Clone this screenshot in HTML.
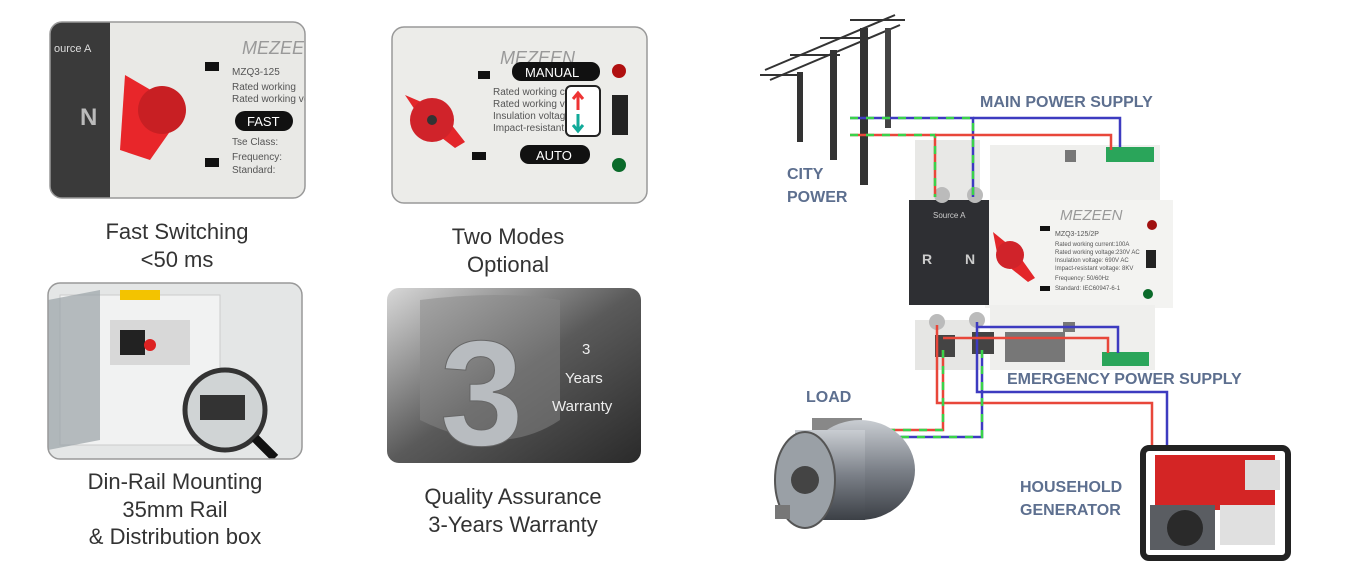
<!DOCTYPE html>
<html><head><meta charset="utf-8"><style>
body{margin:0;width:1362px;height:584px;background:#fff;position:relative;overflow:hidden;font-family:"Liberation Sans",sans-serif}
.cap{position:absolute;text-align:center;color:#333;font-size:22px;line-height:27.5px;width:300px}
.lab{font-family:"Liberation Sans",sans-serif;font-weight:bold;font-size:16px;fill:#5d6f8f}
</style></head><body>
<svg width="1362" height="584" style="position:absolute;left:0;top:0">
<defs>
<linearGradient id="g4" x1="0" y1="0" x2="1" y2="1"><stop offset="0" stop-color="#d8d8d8"/><stop offset=".5" stop-color="#5a5a5a"/><stop offset="1" stop-color="#2a2a2a"/></linearGradient>
<linearGradient id="mot" x1="0" y1="0" x2="0" y2="1"><stop offset="0" stop-color="#c9cdd2"/><stop offset=".5" stop-color="#7b8088"/><stop offset="1" stop-color="#3c4046"/></linearGradient>
</defs>
<g><clipPath id="c1"><rect x="50" y="22" width="255" height="176" rx="12"/></clipPath>
<g clip-path="url(#c1)"><rect x="50" y="22" width="255" height="176" fill="#e9e9e6"/>
<rect x="50" y="22" width="60" height="176" fill="#3a3a3a"/><text x="54" y="52" fill="#ddd" font-size="11">ource A</text><text x="80" y="125" fill="#bbb" font-size="24" font-weight="bold">N</text>
<polygon points="125,75 185,110 150,160 120,150" fill="#e8262a"/><circle cx="162" cy="110" r="24" fill="#c81f23"/>
<rect x="205" y="62" width="14" height="9" fill="#111"/><rect x="205" y="158" width="14" height="9" fill="#111"/>
<text x="242" y="54" fill="#999" font-size="18" font-style="italic">MEZEEN</text>
<text x="232" y="75" fill="#555" font-size="10">MZQ3-125</text><text x="232" y="90" fill="#555" font-size="10">Rated working</text><text x="232" y="102" fill="#555" font-size="10">Rated working vo</text>
<text x="232" y="145" fill="#555" font-size="10">Tse Class:</text><text x="232" y="160" fill="#555" font-size="10">Frequency:</text><text x="232" y="173" fill="#555" font-size="10">Standard:</text>
<rect x="235" y="111" width="58" height="20" rx="10" fill="#111"/><text x="247" y="126" fill="#fff" font-size="13">FAST</text></g>
<rect x="50" y="22" width="255" height="176" rx="12" fill="none" stroke="#999" stroke-width="1.5"/></g>
<g><clipPath id="c2"><rect x="392" y="27" width="255" height="176" rx="12"/></clipPath>
<g clip-path="url(#c2)"><rect x="392" y="27" width="255" height="176" fill="#ecece9"/>
<text x="500" y="64" fill="#999" font-size="18" font-style="italic">MEZEEN</text>
<polygon points="405,95 440,110 465,142 455,148 425,125" fill="#e3262a"/><circle cx="432" cy="120" r="22" fill="#d0232a"/><circle cx="432" cy="120" r="5" fill="#333"/>
<rect x="478" y="71" width="12" height="8" fill="#111"/><rect x="472" y="152" width="14" height="8" fill="#111"/>
<text x="493" y="95" fill="#555" font-size="10">Rated working curr</text><text x="493" y="107" fill="#555" font-size="10">Rated working volta</text><text x="493" y="119" fill="#555" font-size="10">Insulation voltage</text><text x="493" y="131" fill="#555" font-size="10">Impact-resistant vo</text>
<rect x="512" y="62" width="88" height="19" rx="9" fill="#111"/><text x="525" y="77" fill="#fff" font-size="13">MANUAL</text>
<rect x="520" y="145" width="70" height="19" rx="9" fill="#111"/><text x="536" y="160" fill="#fff" font-size="13">AUTO</text>
<rect x="566" y="86" width="34" height="50" rx="5" fill="#fff" stroke="#222" stroke-width="2"/>
<path d="M578 110 V94 M573 99 L578 93 L583 99" stroke="#e33" stroke-width="3" fill="none"/><path d="M578 114 V130 M573 125 L578 131 L583 125" stroke="#1a9" stroke-width="3" fill="none"/>
<rect x="612" y="95" width="16" height="40" fill="#222"/><circle cx="619" cy="71" r="7" fill="#b01010"/><circle cx="619" cy="165" r="7" fill="#0a6a2a"/></g>
<rect x="392" y="27" width="255" height="176" rx="12" fill="none" stroke="#999" stroke-width="1.5"/></g>
<g><clipPath id="c3"><rect x="48" y="283" width="254" height="176" rx="12"/></clipPath>
<g clip-path="url(#c3)"><rect x="48" y="283" width="254" height="176" fill="#e4e6e6"/>
<rect x="60" y="295" width="160" height="150" fill="#f1f2f2" stroke="#ccc"/><polygon points="48,300 100,290 100,440 48,450" fill="#9aa3a6" opacity=".7"/>
<rect x="110" y="320" width="80" height="45" fill="#d8d8d8"/><rect x="120" y="330" width="25" height="25" fill="#222"/><circle cx="150" cy="345" r="6" fill="#d22"/>
<rect x="120" y="290" width="40" height="10" fill="#f3c300"/>
<circle cx="225" cy="410" r="40" fill="#d0d4d5" stroke="#333" stroke-width="5"/><rect x="200" y="395" width="45" height="25" fill="#333"/>
<line x1="255" y1="438" x2="275" y2="458" stroke="#111" stroke-width="9"/></g>
<rect x="48" y="283" width="254" height="176" rx="12" fill="none" stroke="#999" stroke-width="1.5"/></g>
<g><clipPath id="c4"><rect x="387" y="288" width="254" height="175" rx="12"/></clipPath>
<g clip-path="url(#c4)"><rect x="387" y="288" width="254" height="175" fill="url(#g4)"/>
<path d="M420 300 Q500 290 560 300 L560 420 Q500 460 420 420 Z" fill="#888" opacity=".5"/>
<text x="440" y="445" font-size="150" font-weight="bold" fill="#b8bcc0" stroke="#666">3</text>
<text x="582" y="354" fill="#eee" font-size="15">3</text><text x="565" y="383" fill="#eee" font-size="15">Years</text><text x="552" y="411" fill="#eee" font-size="15">Warranty</text></g></g>

<g stroke="#333" stroke-width="2">
<line x1="760" y1="75" x2="800" y2="75"/><line x1="790" y1="55" x2="840" y2="55"/><line x1="820" y1="38" x2="870" y2="38"/><line x1="850" y1="20" x2="905" y2="20"/>
<line x1="770" y1="80" x2="900" y2="25"/><line x1="765" y1="70" x2="895" y2="15"/></g>
<rect x="797" y="72" width="6" height="70" fill="#333"/><rect x="830" y="50" width="7" height="110" fill="#333"/><rect x="860" y="28" width="8" height="157" fill="#333"/><rect x="885" y="28" width="6" height="100" fill="#444"/>
<rect x="915" y="140" width="65" height="65" fill="#e8e8e6"/><rect x="915" y="320" width="65" height="50" fill="#e6e6e4"/>
<rect x="990" y="145" width="170" height="60" fill="#efefed"/><rect x="985" y="200" width="188" height="108" fill="#f3f3f1"/><rect x="990" y="305" width="165" height="65" fill="#efefed"/>
<rect x="909" y="200" width="80" height="105" fill="#2e2f33"/>
<text x="933" y="218" fill="#ccc" font-size="8">Source A</text><text x="922" y="264" fill="#ccc" font-size="14" font-weight="bold">R</text><text x="965" y="264" fill="#ccc" font-size="14" font-weight="bold">N</text>
<text x="1060" y="220" fill="#999" font-size="15" font-style="italic">MEZEEN</text>
<text x="1055" y="236" fill="#555" font-size="7">MZQ3-125/2P</text><text x="1055" y="246" fill="#555" font-size="6">Rated working current:100A</text><text x="1055" y="254" fill="#555" font-size="6">Rated working voltage:230V AC</text><text x="1055" y="262" fill="#555" font-size="6">Insulation voltage: 690V AC</text><text x="1055" y="270" fill="#555" font-size="6">Impact-resistant voltage: 8KV</text><text x="1055" y="280" fill="#555" font-size="6">Frequency: 50/60Hz</text><text x="1055" y="290" fill="#555" font-size="6">Standard: IEC60947-6-1</text>
<polygon points="993,232 1015,250 1035,278 1028,282 998,258" fill="#e3262a"/><circle cx="1010" cy="255" r="14" fill="#d0232a"/>
<rect x="1040" y="226" width="10" height="5" fill="#111"/><rect x="1040" y="286" width="10" height="5" fill="#111"/>
<circle cx="1152" cy="225" r="5" fill="#a01010"/><circle cx="1148" cy="294" r="5" fill="#0a6a2a"/><rect x="1146" y="250" width="10" height="18" fill="#222"/>
<rect x="1065" y="150" width="11" height="12" fill="#777"/><rect x="1063" y="322" width="12" height="10" fill="#777"/>
<rect x="1005" y="332" width="60" height="30" fill="#777"/>
<rect x="1106" y="147" width="48" height="15" fill="#2aa55a"/><rect x="1102" y="352" width="47" height="14" fill="#2aa55a"/>
<circle cx="942" cy="195" r="8" fill="#bbb"/><circle cx="975" cy="195" r="8" fill="#bbb"/><circle cx="937" cy="322" r="8" fill="#bbb"/><circle cx="977" cy="320" r="8" fill="#bbb"/>
<rect x="935" y="335" width="20" height="22" fill="#444"/><rect x="972" y="332" width="22" height="22" fill="#444"/>
<g fill="none" stroke-width="2.5">
<path d="M850 118 H973 V197" stroke="#3d3bc0"/><path d="M850 118 H973 V197" stroke="#3ad24a" stroke-dasharray="8 8"/>
<path d="M973 118 H1120 V147" stroke="#3d3bc0"/>
<path d="M850 135 H935 V197" stroke="#e8473a"/><path d="M850 135 H935 V197" stroke="#3ad24a" stroke-dasharray="8 8"/>
<path d="M935 135 H1111 V150" stroke="#e8473a"/>
<path d="M937 325 V403 H1152 V448" stroke="#e8473a"/>
<path d="M977 322 V392 H1167 V448" stroke="#3d3bc0"/><path d="M977 327 H1118 V353" stroke="#3d3bc0"/><path d="M943 338 H1108 V353" stroke="#e8473a"/>
<path d="M943 350 V430 H880" stroke="#e8473a"/><path d="M943 350 V430 H880" stroke="#3ad24a" stroke-dasharray="8 8"/>
<path d="M982 350 V437 H880" stroke="#3d3bc0"/><path d="M982 350 V437 H880" stroke="#3ad24a" stroke-dasharray="8 8"/>
</g>
<rect x="812" y="418" width="50" height="20" fill="#888"/>
<ellipse cx="860" cy="470" rx="55" ry="50" fill="url(#mot)"/><rect x="795" y="430" width="70" height="90" fill="url(#mot)"/>
<ellipse cx="805" cy="480" rx="30" ry="48" fill="#9aa0a6" stroke="#555" stroke-width="2"/><circle cx="805" cy="480" r="14" fill="#444"/><rect x="775" y="505" width="15" height="14" fill="#777"/>
<rect x="1143" y="448" width="145" height="110" rx="6" fill="none" stroke="#222" stroke-width="6"/>
<rect x="1155" y="455" width="120" height="55" fill="#d42525"/><rect x="1150" y="505" width="65" height="45" fill="#5a5d62"/><circle cx="1185" cy="528" r="18" fill="#2a2a2a"/><rect x="1220" y="505" width="55" height="40" fill="#e0e0e0"/><rect x="1245" y="460" width="35" height="30" fill="#ddd"/>
<text x="980" y="107" class="lab">MAIN POWER SUPPLY</text>
<text x="787" y="179" class="lab">CITY</text><text x="787" y="202" class="lab">POWER</text>
<text x="1007" y="384" class="lab">EMERGENCY POWER SUPPLY</text>
<text x="806" y="402" class="lab">LOAD</text>
<text x="1020" y="492" class="lab">HOUSEHOLD</text><text x="1020" y="515" class="lab">GENERATOR</text>
</svg>
<div class="cap" style="left:27px;top:218px">Fast Switching<br>&lt;50 ms</div>
<div class="cap" style="left:358px;top:223px">Two Modes<br>Optional</div>
<div class="cap" style="left:25px;top:468px">Din-Rail Mounting<br>35mm Rail<br>&amp; Distribution box</div>
<div class="cap" style="left:363px;top:483px">Quality Assurance<br>3-Years Warranty</div>
</body></html>
